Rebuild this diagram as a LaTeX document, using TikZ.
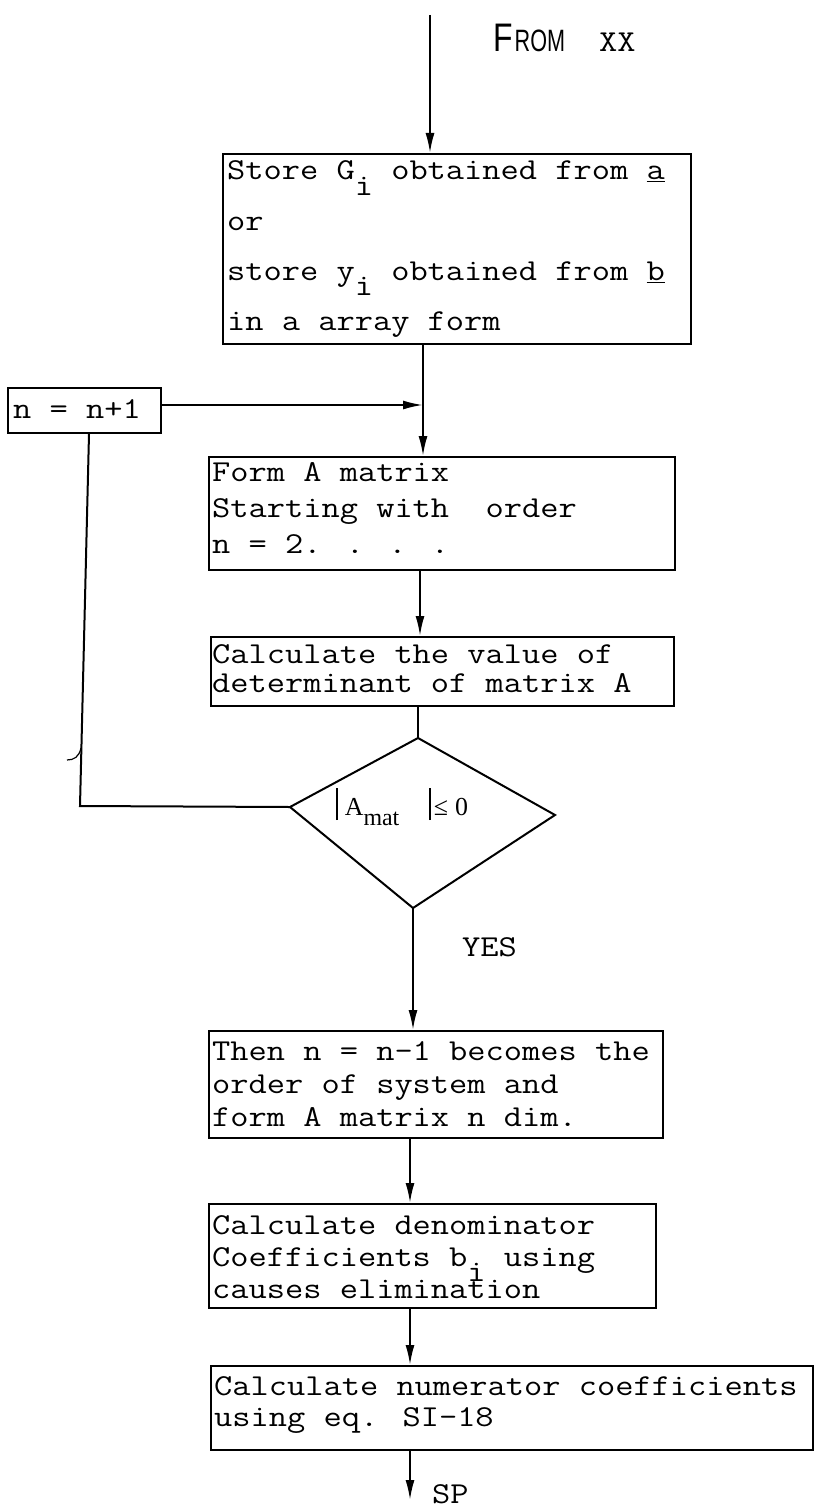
\documentclass[tikz,border=0pt]{standalone}
\usepackage{fontspec}
\usepackage{graphicx}
\usetikzlibrary{arrows.meta}
\newfontfamily\hw{Liberation Sans}
\newfontfamily\serif{Liberation Serif}
\newcommand\tw{\ttfamily}
% typewriter-style lowered index, one character cell wide
\newcommand\lowi{\smash{\raisebox{-0.5em}{i}}}
% block of left-aligned, slightly widened typewriter lines; baseline is the first line
\newcommand\txtlines[1]{\scalebox{1.165}[1]{\begin{tabular}[t]{@{}l@{}}#1\end{tabular}}}
% tall absolute-value bar
\newcommand\vbar{\rule[-5bp]{1.6bp}{32bp}}
\tikzset{
  frame/.style={draw, line width=2bp, rectangle, anchor=north west, inner sep=0pt},
  txt/.style={anchor=base west, inner sep=0pt},
  wire/.style={line width=2bp},
  arr/.style={line width=2bp, -{Latex[length=20bp,width=9bp]}},
}
\begin{document}
\begin{tikzpicture}[x=1bp,y=-1bp]
\fill[white] (0,0) rectangle (817,1511);
\useasboundingbox (0,0) rectangle (817,1511);

% ---- frames ----
\node[frame, minimum width=468bp, minimum height=190bp] (store) at (222,153) {};
\node[frame, minimum width=153bp, minimum height=45bp]  (nbox)  at (7,387) {};
\node[frame, minimum width=466bp, minimum height=113bp] (forma) at (208,456) {};
\node[frame, minimum width=463bp, minimum height=69bp]  (calc)  at (210,636) {};
\node[frame, minimum width=454bp, minimum height=107bp] (then)  at (208,1030) {};
\node[frame, minimum width=447bp, minimum height=104bp] (denom) at (208,1203) {};
\node[frame, minimum width=602bp, minimum height=84bp]  (numer) at (210,1365) {};

% ---- decision ----
\coordinate (dtop)   at (418,738);
\coordinate (dleft)  at (290,807);
\coordinate (dright) at (555,815);
\coordinate (dbot)   at (413,908);
\draw[wire, line join=miter] (dtop) -- (dright) -- (dbot) -- (dleft) -- cycle;

% ---- texts ----
\node[txt] (src) at (493,52) {{\hw\fontsize{40}{40}\selectfont\scalebox{0.8}[1]{F}}\hspace{2bp}{\hw\fontsize{31}{31}\selectfont\scalebox{0.7}[1]{ROM}}\hspace{34bp}{\tw\fontsize{30.5}{31}\selectfont\txtlines{XX}}};

\node[txt, font=\tw\fontsize{30.5}{50.5}\selectfont] (storet) at (227,180)
  {\txtlines{Store G\lowi{} obtained from \underline{a}\\or\\store y\lowi{} obtained from \underline{b}\\in a array form}};
\node[txt, font=\tw\fontsize{30.5}{31}\selectfont] (nboxt) at (13,418) {\txtlines{n = n+1}};
\node[txt, font=\tw\fontsize{30.5}{36.5}\selectfont] (format) at (212,481)
  {\txtlines{Form A matrix\\Starting with\ \ order\\n = 2. . . .}};
\node[txt, font=\tw\fontsize{30.5}{30}\selectfont] (calct) at (212,663)
  {\txtlines{Calculate the value of\\determinant of matrix A}};
\node[txt, font=\serif\fontsize{26}{26}\selectfont] (cond) at (336,815)
  {\vbar\hspace{7bp}A\raisebox{-10bp}{\fontsize{24}{24}\selectfont mat}\hspace{30bp}\vbar\hspace{3bp}≤\hspace{7bp}0};
\node[txt, font=\tw\fontsize{30.5}{31}\selectfont] (yes) at (462,956) {\txtlines{YES}};
\node[txt, font=\tw\fontsize{30.5}{33.5}\selectfont] (thent) at (212,1060)
  {\txtlines{Then n = n-1 becomes the\\order of system and\\form A matrix n dim.}};
\node[txt, font=\tw\fontsize{30.5}{32.5}\selectfont] (denomt) at (212,1234)
  {\txtlines{Calculate denominator\\Coefficients b\lowi{} using\\causes elimination}};
\node[txt, font=\tw\fontsize{30.5}{31.5}\selectfont] (numert) at (214,1395)
  {\txtlines{Calculate numerator coefficients\\using eq. SI-18}};
\node[txt, font=\tw\fontsize{30.5}{31}\selectfont] (sp) at (432,1503) {\txtlines{SP}};

% ---- connectors ----
\coordinate (inp) at (430,15);
\coordinate (jn)  at (423,405);
\coordinate (c1)  at (420,0);
\coordinate (c2)  at (410,0);
\coordinate (lpt) at (89,0);
\coordinate (lpb) at (80,806);
\coordinate (outp) at (410,1500);

\draw[arr] (inp) -- (store.north -| inp);
\draw[wire] (store.south -| jn) -- (jn);
\draw[arr] (jn) -- (forma.north -| jn);
\draw[arr] (nbox.east |- jn) -- (jn);
\draw[arr] (forma.south -| c1) -- (calc.north -| c1);
\draw[wire] (calc.south -| dtop) -- (dtop);
\draw[wire] (nbox.south -| lpt) -- (lpb) -- (dleft);
\draw[line width=1.2bp] (67,760) .. controls (74,760) and (79,757) .. (81,748);
\draw[arr] (dbot) -- (then.north -| dbot);
\draw[arr] (then.south -| c2) -- (denom.north -| c2);
\draw[arr] (denom.south -| c2) -- (numer.north -| c2);
\draw[arr] (numer.south -| c2) -- (outp);
\end{tikzpicture}
\end{document}
